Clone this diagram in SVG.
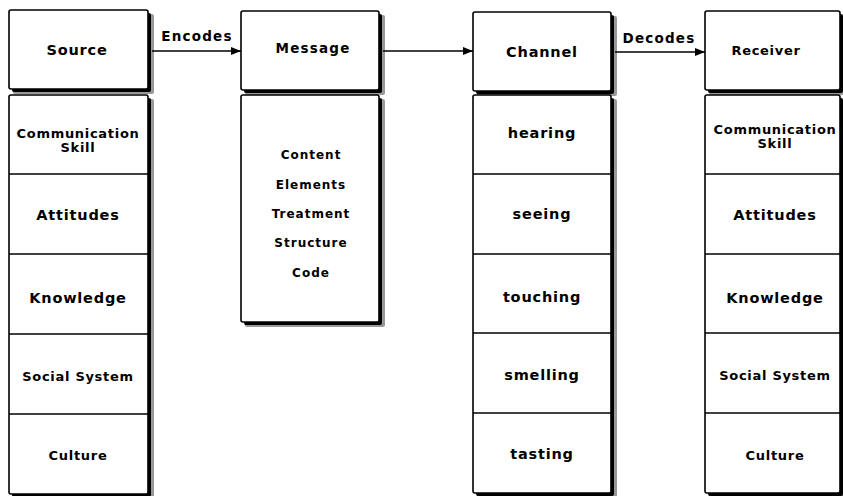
<svg xmlns="http://www.w3.org/2000/svg" width="843" height="496" viewBox="0 0 843 496">
<style>
.box{fill:#fff;stroke:#000;stroke-width:1.6}
.sh1{fill:#000}
.sh2{fill:#999}
.div{stroke:#000;stroke-width:1.6}
.conn{stroke:#000;stroke-width:1.4;fill:none}
text{font-family:"DejaVu Sans","Liberation Sans",sans-serif;font-weight:bold;text-anchor:middle;fill:#000}
.t{font-size:14.5px;letter-spacing:0.8px}
.c{font-size:13px;letter-spacing:0.7px}
.msg{font-size:13.5px;letter-spacing:1.2px}
.m{font-size:12px;letter-spacing:1px}
.l{font-size:13.5px;letter-spacing:1.2px;font-weight:600}
</style>
<defs>
<marker id="ah" markerWidth="10" markerHeight="8" refX="10" refY="4" orient="auto" markerUnits="userSpaceOnUse">
<path d="M0,0 L10,4 L0,8 Z" fill="#000"/>
</marker>
</defs>
<rect width="843" height="496" fill="#fff"/>

<g id="source">
<rect class="sh2" x="13" y="14" width="141" height="80" rx="2"/>
<rect class="sh1" x="12" y="13" width="139" height="79" rx="2"/>
<rect class="box" x="9" y="10" width="139" height="79" rx="2"/>
<text class="t" x="77" y="55">Source</text>
</g>
<g id="source-attrs">
<rect class="sh2" x="13" y="99" width="141" height="400" rx="2"/>
<rect class="sh1" x="12" y="98" width="139" height="399" rx="2"/>
<rect class="box" x="9" y="95" width="139" height="399" rx="2"/>
<line class="div" x1="9" y1="174" x2="148" y2="174"/>
<line class="div" x1="9" y1="254" x2="148" y2="254"/>
<line class="div" x1="9" y1="334" x2="148" y2="334"/>
<line class="div" x1="9" y1="414" x2="148" y2="414"/>
<text class="c" x="78" y="138">Communication</text>
<text class="c" x="78" y="152">Skill</text>
<text class="t" x="78" y="220">Attitudes</text>
<text class="t" x="78" y="303">Knowledge</text>
<text class="c" x="78" y="381">Social System</text>
<text class="c" x="78" y="460">Culture</text>
</g>

<g id="message">
<rect class="sh2" x="245" y="15" width="140" height="80" rx="2"/>
<rect class="sh1" x="244" y="14" width="138" height="79" rx="2"/>
<rect class="box" x="241" y="11" width="138" height="79" rx="2"/>
<text class="msg" x="313" y="53">Message</text>
</g>
<g id="message-attrs">
<rect class="sh2" x="245" y="99" width="140" height="228" rx="2"/>
<rect class="sh1" x="244" y="98" width="138" height="227" rx="2"/>
<rect class="box" x="241" y="95" width="138" height="227" rx="2"/>
<text class="m" x="311" y="159">Content</text>
<text class="m" x="311" y="189">Elements</text>
<text class="m" x="311" y="218">Treatment</text>
<text class="m" x="311" y="247">Structure</text>
<text class="m" x="311" y="277">Code</text>
</g>

<g id="channel">
<rect class="sh2" x="477" y="16" width="140" height="80" rx="2"/>
<rect class="sh1" x="476" y="15" width="138" height="79" rx="2"/>
<rect class="box" x="473" y="12" width="138" height="79" rx="2"/>
<text class="t" x="542" y="57">Channel</text>
</g>
<g id="channel-attrs">
<rect class="sh2" x="477" y="99" width="140" height="399" rx="2"/>
<rect class="sh1" x="476" y="98" width="138" height="398" rx="2"/>
<rect class="box" x="473" y="95" width="138" height="398" rx="2"/>
<line class="div" x1="473" y1="174" x2="611" y2="174"/>
<line class="div" x1="473" y1="254" x2="611" y2="254"/>
<line class="div" x1="473" y1="333" x2="611" y2="333"/>
<line class="div" x1="473" y1="413" x2="611" y2="413"/>
<text class="t" x="542" y="138">hearing</text>
<text class="t" x="542" y="219">seeing</text>
<text class="t" x="542" y="302">touching</text>
<text class="t" x="542" y="380">smelling</text>
<text class="t" x="542" y="459">tasting</text>
</g>

<g id="receiver">
<rect class="sh2" x="709" y="15" width="137" height="80" rx="2"/>
<rect class="sh1" x="708" y="14" width="135" height="79" rx="2"/>
<rect class="box" x="705" y="11" width="135" height="79" rx="2"/>
<text class="c" x="766" y="55">Receiver</text>
</g>
<g id="receiver-attrs">
<rect class="sh2" x="709" y="99" width="137" height="399" rx="2"/>
<rect class="sh1" x="708" y="98" width="135" height="398" rx="2"/>
<rect class="box" x="705" y="95" width="135" height="398" rx="2"/>
<line class="div" x1="705" y1="174" x2="840" y2="174"/>
<line class="div" x1="705" y1="254" x2="840" y2="254"/>
<line class="div" x1="705" y1="333" x2="840" y2="333"/>
<line class="div" x1="705" y1="413" x2="840" y2="413"/>
<text class="c" x="775" y="134">Communication</text>
<text class="c" x="775" y="148">Skill</text>
<text class="t" x="775" y="220">Attitudes</text>
<text class="t" x="775" y="303">Knowledge</text>
<text class="c" x="775" y="380">Social System</text>
<text class="c" x="775" y="460">Culture</text>
</g>

<g id="connectors">
<line class="conn" x1="152" y1="51" x2="241" y2="51" marker-end="url(#ah)"/>
<text class="l" x="197" y="41">Encodes</text>
<line class="conn" x1="383" y1="51" x2="473" y2="51" marker-end="url(#ah)"/>
<line class="conn" x1="615" y1="52" x2="705" y2="52" marker-end="url(#ah)"/>
<text class="l" x="659" y="43">Decodes</text>
</g>
</svg>
